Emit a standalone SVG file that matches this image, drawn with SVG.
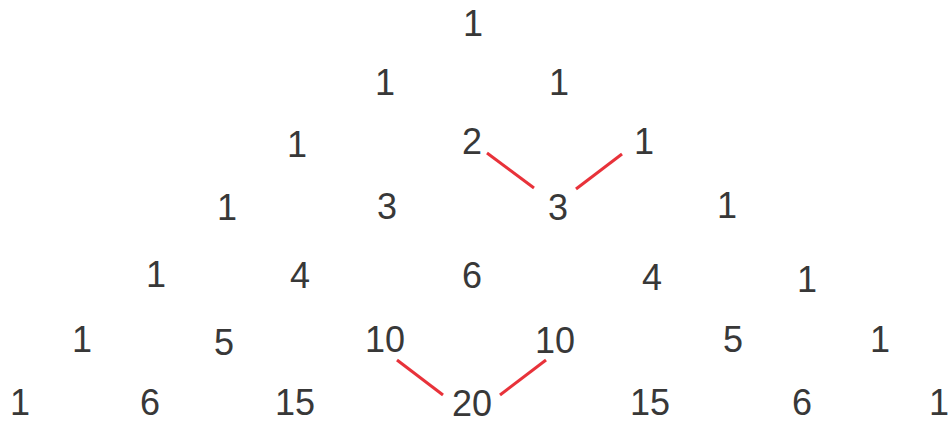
<svg xmlns="http://www.w3.org/2000/svg" width="948" height="423" viewBox="0 0 948 423">
<style>
text{font-family:"Liberation Sans",Arial,sans-serif;font-size:36px;fill:#383838;text-anchor:middle}
.c line{stroke:#e8323a;stroke-width:3;stroke-linecap:butt}
</style>
<rect width="948" height="423" fill="#ffffff"/>
<g class="c" id="connectors">
<line x1="487" y1="153" x2="534" y2="188"/>
<line x1="576" y1="189" x2="622" y2="154"/>
<line x1="397" y1="360" x2="443" y2="395"/>
<line x1="500" y1="395" x2="546" y2="360"/>
</g>
<g id="r0c0"><text x="473" y="36">1</text></g>
<g id="r1c0"><text x="385" y="95">1</text></g>
<g id="r1c1"><text x="559" y="95">1</text></g>
<g id="r2c0"><text x="297" y="157">1</text></g>
<g id="r2c1"><text x="472" y="154">2</text></g>
<g id="r2c2"><text x="644" y="154">1</text></g>
<g id="r3c0"><text x="227" y="220">1</text></g>
<g id="r3c1"><text x="387" y="219">3</text></g>
<g id="r3c2"><text x="558" y="220">3</text></g>
<g id="r3c3"><text x="727" y="218">1</text></g>
<g id="r4c0"><text x="156" y="287">1</text></g>
<g id="r4c1"><text x="300" y="288">4</text></g>
<g id="r4c2"><text x="472" y="288">6</text></g>
<g id="r4c3"><text x="652" y="290">4</text></g>
<g id="r4c4"><text x="807" y="292">1</text></g>
<g id="r5c0"><text x="82" y="352">1</text></g>
<g id="r5c1"><text x="224" y="355">5</text></g>
<g id="r5c2"><text x="385" y="352">10</text></g>
<g id="r5c3"><text x="555" y="353">10</text></g>
<g id="r5c4"><text x="733" y="352">5</text></g>
<g id="r5c5"><text x="880" y="352">1</text></g>
<g id="r6c0"><text x="20" y="415">1</text></g>
<g id="r6c1"><text x="150" y="415">6</text></g>
<g id="r6c2"><text x="295" y="415">15</text></g>
<g id="r6c3"><text x="472" y="416">20</text></g>
<g id="r6c4"><text x="650" y="415">15</text></g>
<g id="r6c5"><text x="802" y="415">6</text></g>
<g id="r6c6"><text x="939" y="415">1</text></g>
</svg>
